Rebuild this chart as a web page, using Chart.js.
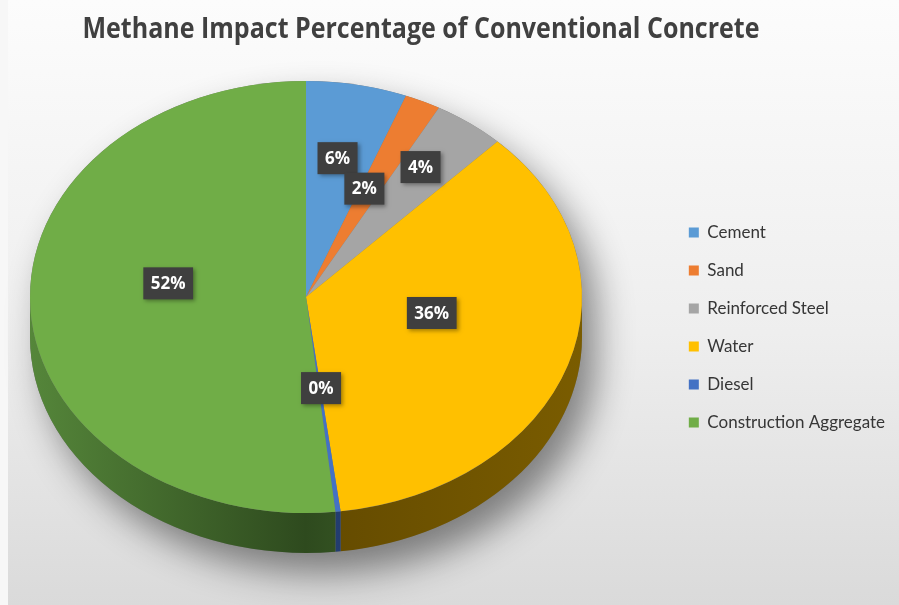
<!DOCTYPE html>
<html>
<head>
<meta charset="utf-8">
<script src="https://cdn.jsdelivr.net/npm/chart.js@4.4.1/dist/chart.umd.min.js"></script>
<style>
  html, body { margin: 0; padding: 0; background: #fff; }
  #wrap { width: 899px; height: 605px; position: relative; }
</style>
</head>
<body>
<div id="wrap"><canvas id="pie" width="899" height="605"></canvas></div>
<script>
const titleText = 'Methane Impact Percentage of Conventional Concrete';
const materials = ['Cement', 'Sand', 'Reinforced Steel', 'Water', 'Diesel', 'Construction Aggregate'];
const shares = [5.9, 2.1, 4.2, 35.8, 0.3, 51.7];
const topColors = ['#5b9bd5', '#ed7d31', '#a5a5a5', '#ffc000', '#4472c4', '#70ad47'];
const sideEdge = ['#46759f', '#b05a20', '#7a7a7a', '#7a5c00', '#2f5396', '#55863a'];
const sideMid = ['#2f4f6e', '#7a3e14', '#555555', '#634a00', '#213a6a', '#2e4a1e'];

// ellipse that the flat pie is squeezed into, plus the thickness of the side
const CX = 306, CY = 297, RX = 276, RY = 216, DEPTH = 40;
// value boxes are placed round the tilted hub (upper half looks shorter)
const HUB_Y = 277, RY_BACK = 195, RY_FRONT = 238;
const labelDepth = [0.62, 0.5, 0.7, 0.48, 0.47, 0.5];

const ctx = document.getElementById('pie').getContext('2d');

const backdrop = {
    id: 'backdrop',
    beforeDraw(chart) {
        const c = chart.ctx;
        c.save();
        c.fillStyle = '#f7f7f7';
        c.fillRect(0, 0, chart.width, chart.height);
        const g = c.createLinearGradient(0, 0, 0, chart.height);
        g.addColorStop(0, '#fcfcfc');
        g.addColorStop(0.55, '#eeeeee');
        g.addColorStop(1, '#dadada');
        c.fillStyle = g;
        c.fillRect(8, 0, chart.width - 8, chart.height);
        c.fillStyle = '#404040';
        c.font = 'bold 28px "Open Sans", sans-serif';
        c.textAlign = 'center';
        c.textBaseline = 'alphabetic';
        c.fillText(titleText, 421, 38, 677);
        c.restore();
    }
};

const squeeze = {
    id: 'squeeze',
    beforeDatasetsDraw(chart) {
        const c = chart.ctx;
        const arcs = chart.getDatasetMeta(0).data;
        // soft shadow under the whole disc
        c.save();
        c.shadowColor = 'rgba(0,0,0,0.45)';
        c.shadowBlur = 36;
        c.shadowOffsetX = 14;
        c.shadowOffsetY = 20;
        c.fillStyle = '#777';
        c.beginPath();
        c.ellipse(CX, CY, RX, RY, 0, Math.PI, 2 * Math.PI);
        c.ellipse(CX, CY + DEPTH, RX, RY, 0, 0, Math.PI);
        c.closePath();
        c.fill();
        c.restore();
        // front wall of each slice
        arcs.forEach((arc, i) => {
            const a0 = Math.max(arc.startAngle, 0);
            const a1 = Math.min(arc.endAngle, Math.PI);
            if (a1 <= a0) return;
            const g = c.createLinearGradient(CX - RX, 0, CX + RX, 0);
            g.addColorStop(0, sideEdge[i]);
            g.addColorStop(0.5, sideMid[i]);
            g.addColorStop(1, sideEdge[i]);
            c.fillStyle = g;
            c.beginPath();
            c.ellipse(CX, CY, RX, RY, 0, a0, a1);
            c.ellipse(CX, CY + DEPTH, RX, RY, 0, a1, a0, true);
            c.closePath();
            c.fill();
        });
        const a = arcs[0];
        c.save();
        c.translate(CX, CY);
        c.scale(RX / a.outerRadius, RY / a.outerRadius);
        c.translate(-a.x, -a.y);
    },
    afterDatasetsDraw(chart) {
        const c = chart.ctx;
        c.restore();
        const arcs = chart.getDatasetMeta(0).data;
        const total = shares.reduce((s, v) => s + v, 0);
        c.save();
        c.font = 'bold 17px "Open Sans", sans-serif';
        c.textAlign = 'center';
        c.textBaseline = 'middle';
        arcs.forEach((arc, i) => {
            const mid = (arc.startAngle + arc.endAngle) / 2;
            const sin = Math.sin(mid);
            const x = CX + labelDepth[i] * RX * Math.cos(mid);
            const y = HUB_Y + labelDepth[i] * (sin < 0 ? RY_BACK : RY_FRONT) * sin;
            const txt = Math.round(shares[i] / total * 100) + '%';
            const w = c.measureText(txt).width + 15;
            const h = 32;
            c.save();
            c.shadowColor = 'rgba(0,0,0,0.35)';
            c.shadowBlur = 4;
            c.shadowOffsetX = 2;
            c.shadowOffsetY = 2;
            c.fillStyle = '#3f3f3f';
            c.fillRect(x - w / 2, y - h / 2, w, h);
            c.restore();
            c.fillStyle = '#ffffff';
            c.fillText(txt, x, y + 1);
        });
        c.restore();
    }
};

new Chart(ctx, {
    type: 'pie',
    data: {
        labels: materials,
        datasets: [{
            data: shares,
            backgroundColor: topColors,
            borderWidth: 0,
            clip: false
        }]
    },
    options: {
        responsive: false,
        animation: false,
        events: [],
        layout: { padding: { top: 50, right: 4, left: 0, bottom: 0 } },
        plugins: {
            tooltip: { enabled: false },
            title: { display: false },
            legend: {
                position: 'right',
                labels: {
                    boxWidth: 10,
                    boxHeight: 10,
                    padding: 21,
                    color: '#363636',
                    font: { family: 'Lato, sans-serif', size: 17 }
                }
            }
        }
    },
    plugins: [backdrop, squeeze]
});
</script>
</body>
</html>
